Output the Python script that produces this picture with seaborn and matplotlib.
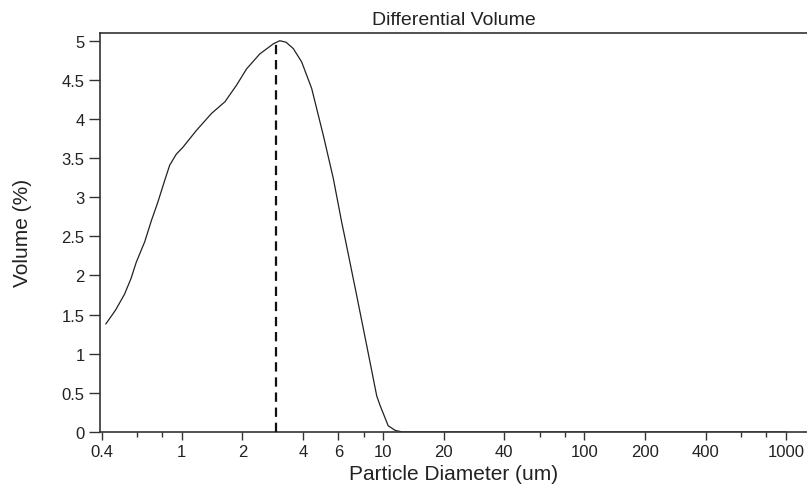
import matplotlib
matplotlib.use("Agg")
import matplotlib.pyplot as plt
import seaborn as sns
import pandas as pd

# Data
diameter_um = [0.42, 0.47, 0.52, 0.56, 0.595, 0.655, 0.707, 0.762, 0.82, 0.872, 0.94,
               1.015, 1.18, 1.405, 1.64, 1.87, 2.10, 2.44, 2.85, 3.07, 3.30, 3.58,
               3.94, 4.42, 5.05, 5.66, 6.23, 6.48, 7.4, 8.3, 9.3, 9.66, 10.6, 11.5,
               12.5, 20, 50, 100, 300, 1000]
volume_pct = [1.38, 1.56, 1.76, 1.96, 2.17, 2.43, 2.70, 2.94, 3.20, 3.41, 3.55,
              3.64, 3.85, 4.07, 4.22, 4.43, 4.64, 4.83, 4.96, 5.00, 4.98, 4.90,
              4.73, 4.39, 3.79, 3.24, 2.68, 2.47, 1.74, 1.10, 0.46, 0.34, 0.08, 0.02,
              0.0, 0.0, 0.0, 0.0, 0.0, 0.0]
mode_um = 2.94
mode_pct = 5.0

major_ticks = [0.4, 1, 2, 4, 6, 10, 20, 40, 100, 200, 400, 1000]
major_labels = ["0.4", "1", "2", "4", "6", "10", "20", "40", "100", "200", "400", "1000"]
minor_ticks = [0.6, 0.8, 8, 60, 80, 600, 800]
y_ticks = [0, 0.5, 1, 1.5, 2, 2.5, 3, 3.5, 4, 4.5, 5]
y_labels = ["0", "0.5", "1", "1.5", "2", "2.5", "3", "3.5", "4", "4.5", "5"]

sns.set_style("ticks")
plt.rcParams['font.family'] = ['Liberation Sans', 'DejaVu Sans']
txt = "#222222"
spine_c = "#333333"

fig = plt.figure(figsize=(8.07, 4.89), dpi=100)
ax = fig.add_axes([100/807, 1-433/489, 707/807, (433-33.5)/489])

df = pd.DataFrame({"d": diameter_um, "v": volume_pct})
sns.lineplot(data=df, x="d", y="v", ax=ax, color="#222222", linewidth=0.9,
             sort=False, estimator=None)
ax.vlines(mode_um, 0, mode_pct, colors="#111111", linewidth=1.6,
          linestyles=(0, (4.2, 2.6)), zorder=3)

ax.set_xscale("log")
ax.set_xlim(0.393, 1273)
ax.set_ylim(0, 5.105)

ax.set_xticks(major_ticks)
ax.set_xticklabels(major_labels)
ax.set_xticks(minor_ticks, minor=True)
ax.set_xticklabels([], minor=True)
ax.set_yticks(y_ticks)
ax.set_yticklabels(y_labels)

ax.tick_params(axis="x", which="major", direction="out", length=6, width=1.0,
               color=spine_c, labelsize=12, labelcolor=txt, pad=3)
ax.tick_params(axis="x", which="minor", direction="out", length=3.5, width=1.0,
               color=spine_c)
ax.tick_params(axis="y", which="major", direction="out", length=8, width=1.0,
               color=spine_c, labelsize=12, labelcolor=txt, pad=3)

for side in ["left", "bottom", "top"]:
    ax.spines[side].set_visible(True)
    ax.spines[side].set_color(spine_c)
    ax.spines[side].set_linewidth(1.2)
ax.spines["right"].set_visible(False)

ax.set_xlabel("Particle Diameter (um)", fontsize=15, color=txt, labelpad=3)
ax.set_ylabel("Volume (%)", fontsize=15, color=txt, labelpad=21)
ax.set_title("Differential Volume", fontsize=14, color=txt, pad=6)

fig.savefig("out.png", dpi=100)
